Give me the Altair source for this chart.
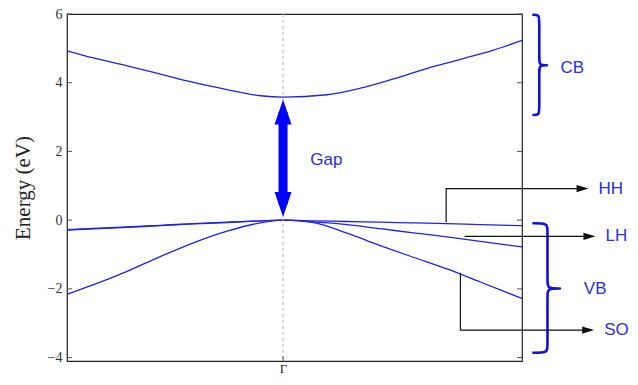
import altair as alt
import pandas as pd

# ---------------- data ----------------
# conduction band (k in units with Gamma = 0)
k_cb = [-1.0, -0.877, -0.722, -0.568, -0.415, -0.259, -0.105, 0.0, 0.204, 0.358, 0.511, 0.668, 0.821, 0.974, 1.106]
e_cb = [4.93, 4.72, 4.49, 4.25, 4.01, 3.80, 3.62, 3.58, 3.65, 3.84, 4.11, 4.42, 4.68, 4.95, 5.23]

# valence bands
k_vb = [-1.0, -0.877, -0.722, -0.568, -0.415, -0.259, -0.138, 0.0, 0.142, 0.296, 0.450, 0.603, 0.759, 0.913, 1.106]
e_hh = [-0.28, -0.24, -0.20, -0.15, -0.10, -0.06, -0.03, 0.0, -0.02, -0.04, -0.06, -0.08, -0.10, -0.13, -0.16]
e_lh = [-0.29, -0.25, -0.21, -0.16, -0.11, -0.07, -0.03, 0.0, -0.05, -0.13, -0.25, -0.37, -0.49, -0.62, -0.78]
e_so = [-2.16, -1.88, -1.49, -1.06, -0.66, -0.32, -0.12, 0.0, -0.07, -0.38, -0.74, -1.08, -1.42, -1.80, -2.28]

y_ticks = [-4, -2, 0, 2, 4, 6]
x_tick_k = [0.0]
x_tick_label = "Γ"

# gap arrow (energies of the two tips) and its label
gap_tips = [0.09, 3.51]
gap_label = "Gap"
gap_label_pos = (0.126, 1.75)

# braces: name, energy top, energy bottom, energy of tip, k of ends, k of spine, k of tip
brace_names = ["CB", "VB"]
brace_top = [5.98, -0.09]
brace_bot = [3.06, -3.86]
brace_tip = [4.51, -1.99]
brace_k_end = [1.154, 1.154]
brace_k_mid = [1.186, 1.224]
brace_k_tip = [1.223, 1.284]
brace_label_k = [1.284, 1.392]
brace_label_e = [4.42, -2.0]

# pointer arrows: name, start k, start energy, level energy, tip k
arrow_names = ["HH", "LH", "SO"]
arrow_k_start = [0.755, 0.840, 0.821]
arrow_e_start = [-0.06, -0.47, -1.53]
arrow_e_level = [0.92, -0.47, -3.20]
arrow_k_tip = [1.414, 1.446, 1.440]

# ---------------- styling ----------------
W, H = 455, 347
X_DOMAIN = [-1.0, 1.106]
Y_DOMAIN = [-4.1, 6.0]
px_per_k = W / (X_DOMAIN[1] - X_DOMAIN[0])
px_per_e = H / (Y_DOMAIN[1] - Y_DOMAIN[0])

BAND_BLUE = "#2222e6"
TEXT_BLUE = "#2e2ed8"
BRACE_BLUE = "#1010dd"

xs = alt.Scale(domain=X_DOMAIN, nice=False, zero=False)
ys = alt.Scale(domain=Y_DOMAIN, nice=False, zero=False)

x_axis = alt.Axis(values=x_tick_k, labelExpr="'%s'" % x_tick_label, tickSize=0, domain=False,
                  grid=False, labelFont="Liberation Serif", labelFontSize=13, labelColor="#222",
                  labelPadding=1, title=None)
y_axis = alt.Axis(values=y_ticks, format="d", tickSize=0, domain=False, grid=False,
                  labelFont="Liberation Serif", labelFontSize=14, labelColor="#333", labelPadding=5,
                  title="Energy (eV)", titleFont="Liberation Serif", titleFontSize=21,
                  titleFontWeight="normal", titleColor="#222", titleX=-44, titleY=H / 2,
                  titleAngle=270, titleAlign="center", titleBaseline="middle")


def X(f, **kw):
    return alt.X(f, type="quantitative", scale=xs, axis=x_axis, **kw)


def Y(f, **kw):
    return alt.Y(f, type="quantitative", scale=ys, axis=y_axis, **kw)


# band table
rows = []
for name, ks, es in [("CB", k_cb, e_cb), ("HH", k_vb, e_hh), ("LH", k_vb, e_lh), ("SO", k_vb, e_so)]:
    for i, (k, e) in enumerate(zip(ks, es)):
        rows.append({"band": name, "k": k, "E": e, "i": i})
bands_df = pd.DataFrame(rows)

bands = alt.Chart(bands_df).mark_line(
    interpolate="monotone", color=BAND_BLUE, strokeWidth=1.3
).encode(x=X("k"), y=Y("E"), detail="band:N", order="i:Q")

# dashed Gamma line
gamma_line = alt.Chart(pd.DataFrame({"k": x_tick_k})).mark_rule(
    color="#bbbbbb", strokeDash=[3, 3], strokeWidth=1
).encode(x=X("k"), y=alt.value(0), y2=alt.value(H))

# inward ticks
tick_df = pd.DataFrame({"E": y_ticks})
ticks_left = alt.Chart(tick_df).mark_rule(color="#555", strokeWidth=1).encode(
    y=Y("E"), x=alt.value(0), x2=alt.value(5))
ticks_right = alt.Chart(tick_df).mark_rule(color="#555", strokeWidth=1).encode(
    y=Y("E"), x=alt.value(W - 5), x2=alt.value(W))
ticks_bottom = alt.Chart(pd.DataFrame({"k": x_tick_k})).mark_rule(color="#555", strokeWidth=1).encode(
    x=X("k"), y=alt.value(H - 5), y2=alt.value(H))

# gap arrow
head_half = 12.5 / px_per_e
shaft = alt.Chart(pd.DataFrame({"k": [0.0], "e1": [gap_tips[0] + head_half], "e2": [gap_tips[1] - head_half]})).mark_rule(
    color="#0000ff", strokeWidth=9, strokeCap="butt"
).encode(x=X("k"), y=Y("e1"), y2="e2")
head_up = alt.Chart(pd.DataFrame({"k": [0.0], "E": [gap_tips[1] - head_half]})).mark_point(
    shape="M0,-1L0.68,1L-0.68,1Z", filled=True, color="#0000ff", size=625, opacity=1, strokeWidth=0
).encode(x=X("k"), y=Y("E"))
head_down = alt.Chart(pd.DataFrame({"k": [0.0], "E": [gap_tips[0] + head_half]})).mark_point(
    shape="M0,1L0.68,-1L-0.68,-1Z", filled=True, color="#0000ff", size=625, opacity=1, strokeWidth=0
).encode(x=X("k"), y=Y("E"))
gap_text = alt.Chart(pd.DataFrame({"k": [gap_label_pos[0]], "E": [gap_label_pos[1]], "t": [gap_label]})).mark_text(
    align="left", baseline="middle", font="Liberation Sans", fontSize=17, color=TEXT_BLUE
).encode(x=X("k"), y=Y("E"), text="t:N")

# braces
curl = 6 / px_per_e
brows = []
for n, et, eb, etip, ke, km, kt in zip(brace_names, brace_top, brace_bot, brace_tip, brace_k_end, brace_k_mid, brace_k_tip):
    pts = [(ke, et), (km, et), (km, et - curl), (km, etip + curl), (km, etip), (kt, etip), (kt, etip),
           (km, etip), (km, etip - curl), (km, eb + curl), (km, eb), (ke, eb)]
    for i, (k, e) in enumerate(pts):
        brows.append({"b": n, "k": k, "E": e, "i": i})
braces = alt.Chart(pd.DataFrame(brows)).mark_line(
    interpolate="basis", color=BRACE_BLUE, strokeWidth=2.6
).encode(x=X("k"), y=Y("E"), detail="b:N", order="i:Q")

brace_text = alt.Chart(pd.DataFrame({"k": brace_label_k, "E": brace_label_e, "t": brace_names})).mark_text(
    align="left", baseline="middle", font="Liberation Sans", fontSize=17, color=TEXT_BLUE
).encode(x=X("k"), y=Y("E"), text="t:N")

# pointer arrows
head_len = 12 / px_per_k
arows = []
for n, ks, es, el, kt in zip(arrow_names, arrow_k_start, arrow_e_start, arrow_e_level, arrow_k_tip):
    pts = [(ks, es)]
    if abs(el - es) > 1e-9:
        pts.append((ks, el))
    pts.append((kt - head_len + 0.005, el))
    for i, (k, e) in enumerate(pts):
        arows.append({"a": n, "k": k, "E": e, "i": i})
arrow_lines = alt.Chart(pd.DataFrame(arows)).mark_line(color="#111111", strokeWidth=1.2).encode(
    x=X("k"), y=Y("E"), detail="a:N", order="i:Q")
arrow_heads = alt.Chart(pd.DataFrame({"k": [kt - head_len / 2 for kt in arrow_k_tip], "E": arrow_e_level})).mark_point(
    shape="M-1,-0.6L1,0L-1,0.6Z", filled=True, color="#111111", size=144, opacity=1, strokeWidth=0
).encode(x=X("k"), y=Y("E"))
arrow_text = alt.Chart(pd.DataFrame({"k": [kt + 10 / px_per_k for kt in arrow_k_tip], "E": arrow_e_level, "t": arrow_names})).mark_text(
    align="left", baseline="middle", font="Liberation Sans", fontSize=17, color=TEXT_BLUE
).encode(x=X("k"), y=Y("E"), text="t:N")

chart = alt.layer(
    bands, gamma_line, ticks_left, ticks_right, ticks_bottom, shaft, head_up, head_down, gap_text,
    braces, brace_text, arrow_lines, arrow_heads, arrow_text
).properties(
    width=W, height=H,
    autosize=alt.AutoSizeParams(type="none"),
    padding={"left": 59, "top": 6, "right": 108, "bottom": 16},
    background="white",
).configure_view(stroke="#222222", strokeWidth=1.2)

chart.save("out.html", embed_options={"renderer": "svg", "actions": False})
